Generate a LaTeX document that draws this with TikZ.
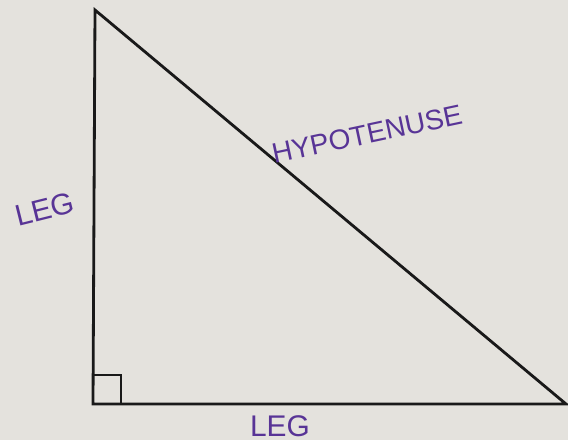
\documentclass[tikz,border=0pt]{standalone}
\usepackage{fontspec}
\setmainfont{Liberation Sans}
\usepackage{xcolor}
\usetikzlibrary{positioning}
\definecolor{paper}{RGB}{228,226,221}
\definecolor{ink}{RGB}{88,52,150}

\begin{document}
\begin{tikzpicture}[
  x=1.0cm, y=1.0cm,
  side/.style={line width=1.6pt, draw=black!90, line join=miter},
  lbl/.style={text=ink, font=\fontsize{17}{17}\selectfont, inner sep=1pt}
]
\fill[paper] (0,0) rectangle (11.36,8.8);
\useasboundingbox (0,0) rectangle (11.36,8.8);

\coordinate (apex) at (1.90,8.60);
\coordinate (corner) at (1.86,0.72);
\coordinate (base) at (11.32,0.72);

\draw[side] (apex) -- (corner) -- (base) -- cycle;
\draw[side] ([yshift=0.58cm]corner) -| ([xshift=0.56cm]corner);

\node[lbl, rotate=14] (legleft) at (0.90,4.62) {LEG};
\node[lbl, rotate=12, font=\fontsize{16}{16}\selectfont] (hyp) at (7.34,6.12) {HYPOTENUSE};
\node[lbl] (legbottom) at (5.60,0.28) {LEG};
\end{tikzpicture}
\end{document}
